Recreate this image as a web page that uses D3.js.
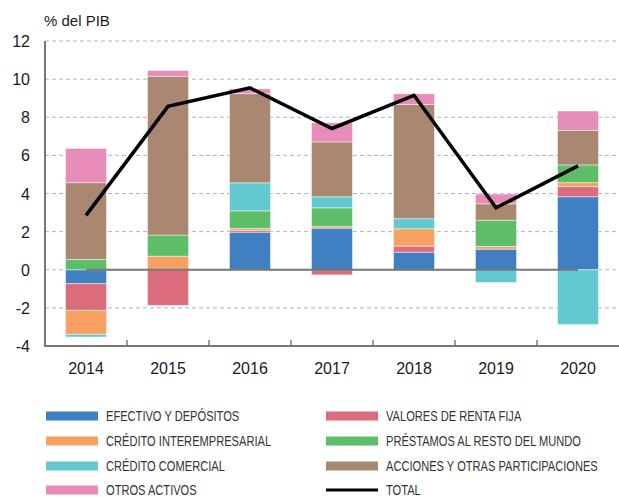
<!DOCTYPE html>
<html>
<head>
<meta charset="utf-8">
<script src="https://cdn.jsdelivr.net/npm/d3@7"></script>
<style>
  body { margin: 0; background: #fff; }
  text { font-family: "Liberation Sans", Arial, sans-serif; fill: #1a1a1a; }
  .legend text { fill: #333; }
</style>
</head>
<body>
<svg id="chart" width="619" height="497"></svg>
<script>
const years = ["2014", "2015", "2016", "2017", "2018", "2019", "2020"]

// Componentes (% del PIB)
const efectivo = [-0.73, 0.00, 1.97, 2.18, 0.92, 1.08, 3.83]
const valores = [-1.40, -1.87, 0.10, -0.27, 0.32, 0.00, 0.53]
const creditoInter = [-1.26, 0.71, 0.10, 0.09, 0.91, 0.14, 0.21]
const prestamos = [0.54, 1.11, 0.92, 0.98, -0.05, 1.38, 0.93]
const creditoComercial = [-0.14, 0.00, 1.47, 0.58, 0.53, -0.67, -2.87]
const acciones = [4.03, 8.33, 4.68, 2.88, 5.99, 0.86, 1.81]
const otros = [1.79, 0.30, 0.25, 1.00, 0.56, 0.51, 1.02]
const total = [2.85, 8.57, 9.54, 7.41, 9.15, 3.25, 5.45]

const yTicks = [-4, -2, 0, 2, 4, 6, 8, 10, 12]

const series = [
  { key: "efectivo", label: "EFECTIVO Y DEPÓSITOS", values: efectivo, color: "#3f7fc2" },
  { key: "valores", label: "VALORES DE RENTA FIJA", values: valores, color: "#da6c7c" },
  { key: "creditoInter", label: "CRÉDITO INTEREMPRESARIAL", values: creditoInter, color: "#f8a062" },
  { key: "prestamos", label: "PRÉSTAMOS AL RESTO DEL MUNDO", values: prestamos, color: "#5ebd69" },
  { key: "creditoComercial", label: "CRÉDITO COMERCIAL", values: creditoComercial, color: "#62c9d0" },
  { key: "acciones", label: "ACCIONES Y OTRAS PARTICIPACIONES", values: acciones, color: "#aa8770" },
  { key: "otros", label: "OTROS ACTIVOS", values: otros, color: "#e78bb8" }
]

const svg = d3.select("#chart")

const plotLeft = 45, plotRight = 619, plotTop = 41, plotBottom = 346

const x = d3.scaleBand()
  .domain(years)
  .range([plotLeft, plotRight])
  .paddingInner(0.5)
  .paddingOuter(0.25)

const y = d3.scaleLinear()
  .domain([-4, 12])
  .range([plotBottom, plotTop])

// Build a table for d3.stack
const table = years.map(function(yr, i) {
  let row = { year: yr }
  series.forEach(function(s) { row[s.key] = s.values[i] })
  return row
})

const stacked = d3.stack()
  .keys(series.map(function(s) { return s.key }))
  .offset(d3.stackOffsetDiverging)(table)

// Grid lines
svg.append("g")
  .selectAll("line")
  .data(yTicks.filter(function(t) { return t > -4 }))
  .enter().append("line")
  .attr("x1", plotLeft)
  .attr("x2", plotRight)
  .attr("y1", function(d) { return y(d) })
  .attr("y2", function(d) { return y(d) })
  .attr("stroke", "#b3b3b3")
  .attr("stroke-width", 1)
  .attr("stroke-dasharray", "4,3")

// Y tick labels
svg.append("g")
  .selectAll("text")
  .data(yTicks)
  .enter().append("text")
  .attr("x", 30)
  .attr("y", function(d) { return y(d) + 6 })
  .attr("text-anchor", "end")
  .style("font-size", "16px")
  .text(function(d) { return d })

svg.append("text")
  .attr("x", 44)
  .attr("y", 26)
  .style("font-size", "15px")
  .text("% del PIB")

// Bars
svg.append("g")
  .selectAll("g")
  .data(stacked)
  .enter().append("g")
  .attr("fill", function(d, i) { return series[i].color })
  .selectAll("rect")
  .data(function(d) { return d })
  .enter().append("rect")
  .attr("x", function(d) { return x(d.data.year) })
  .attr("width", x.bandwidth())
  .attr("y", function(d) { return y(Math.max(d[0], d[1])) })
  .attr("height", function(d) { return Math.abs(y(d[0]) - y(d[1])) })
  .attr("stroke", "rgba(255,255,255,0.45)")
  .attr("stroke-width", 1)

// Zero line across bar centres
svg.append("line")
  .attr("x1", x(years[0]) + x.bandwidth() / 2)
  .attr("x2", x(years[years.length - 1]) + x.bandwidth() / 2)
  .attr("y1", y(0))
  .attr("y2", y(0))
  .attr("stroke", "#777")
  .attr("stroke-width", 2)

// Axes
svg.append("line")
  .attr("x1", plotLeft).attr("x2", plotLeft)
  .attr("y1", plotTop).attr("y2", plotBottom)
  .attr("stroke", "#777").attr("stroke-width", 2)

svg.append("line")
  .attr("x1", plotLeft - 1).attr("x2", plotRight)
  .attr("y1", plotBottom).attr("y2", plotBottom)
  .attr("stroke", "#777").attr("stroke-width", 2)

// Ticks between categories
svg.append("g")
  .selectAll("line")
  .data(years.slice(1))
  .enter().append("line")
  .attr("x1", function(d) { return x(d) - x.step() * x.paddingInner() / 2 })
  .attr("x2", function(d) { return x(d) - x.step() * x.paddingInner() / 2 })
  .attr("y1", plotBottom)
  .attr("y2", plotBottom - 6)
  .attr("stroke", "#777")
  .attr("stroke-width", 1.5)

svg.append("g")
  .selectAll("text")
  .data(years)
  .enter().append("text")
  .attr("x", function(d) { return x(d) + x.bandwidth() / 2 })
  .attr("y", 374)
  .attr("text-anchor", "middle")
  .style("font-size", "16px")
  .text(function(d) { return d })

// Total line
const line = d3.line()
  .x(function(d, i) { return x(years[i]) + x.bandwidth() / 2 })
  .y(function(d) { return y(d) })

svg.append("path")
  .datum(total)
  .attr("d", line)
  .attr("fill", "none")
  .attr("stroke", "#000")
  .attr("stroke-width", 3.5)
  .attr("stroke-linejoin", "miter")

// Legend
const legendItems = [
  { label: series[0].label, color: series[0].color, col: 0, row: 0 },
  { label: series[2].label, color: series[2].color, col: 0, row: 1 },
  { label: series[4].label, color: series[4].color, col: 0, row: 2 },
  { label: series[6].label, color: series[6].color, col: 0, row: 3 },
  { label: series[1].label, color: series[1].color, col: 1, row: 0 },
  { label: series[3].label, color: series[3].color, col: 1, row: 1 },
  { label: series[5].label, color: series[5].color, col: 1, row: 2 },
  { label: "TOTAL", color: "#000", col: 1, row: 3, isLine: true }
]
const colX = [46, 326]
const rowY = [416, 441, 466, 490]

const legend = svg.append("g").attr("class", "legend")
  .selectAll("g")
  .data(legendItems)
  .enter().append("g")
  .attr("transform", function(d) { return "translate(" + colX[d.col] + "," + rowY[d.row] + ")" })

legend.append("rect")
  .attr("x", 0)
  .attr("width", 52)
  .attr("y", function(d) { return d.isLine ? -1.5 : -4.5 })
  .attr("height", function(d) { return d.isLine ? 3 : 9 })
  .attr("fill", function(d) { return d.color })

// Legend labels use a condensed face in the original; squeeze them horizontally.
const labels = legend.append("text")
  .style("font-size", "14px")
  .text(function(d) { return d.label })

let widest = labels.filter(function(d) { return d.col === 1 && d.row === 2 }).node().getComputedTextLength()
let squeeze = 212 / widest

labels.attr("transform", "translate(60,5) scale(" + squeeze + ",1)")
</script>
</body>
</html>
